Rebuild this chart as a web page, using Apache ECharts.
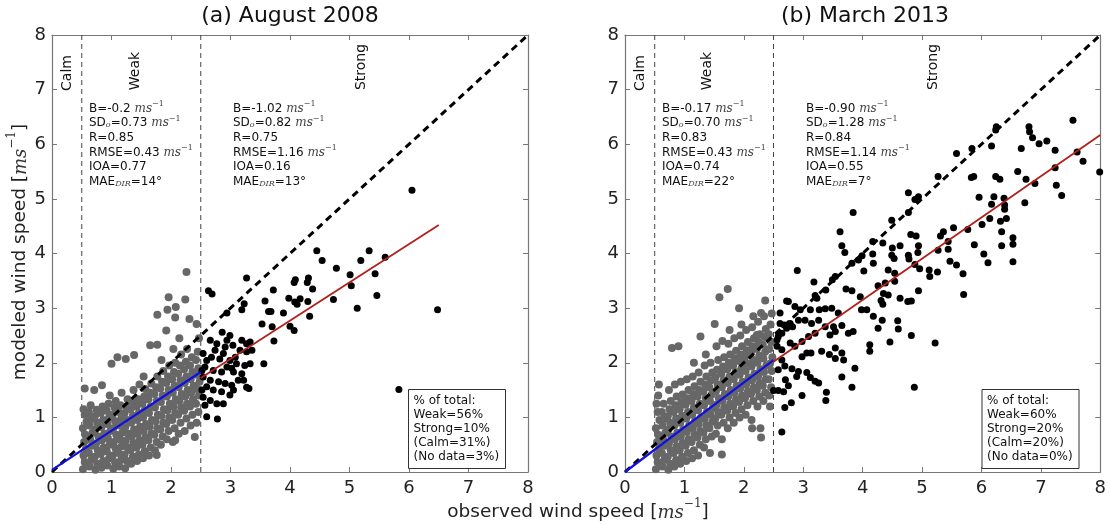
<!DOCTYPE html>
<html>
<head>
<meta charset="utf-8">
<script src="https://cdn.jsdelivr.net/npm/echarts@6/dist/echarts.min.js"></script>
<style>
  html, body { margin: 0; padding: 0; background: #fff; }
  #chart-container { width: 1109px; height: 525px; }
</style>
</head>
<body>
<div id="chart-container"></div>
<script>
// ---- data ----
var titles = ["(a) August 2008", "(b) March 2013"];
var bandLimits = [0.5, 2.5];
var oneToOne = [[0, 0], [8, 8]];

var weakFitA = [[0, 0.04], [2.5, 1.83]];
var strongFitA = [[2.5, 1.72], [6.5, 4.52]];
var weakFitB = [[0, 0], [2.5, 2.05]];
var strongFitB = [[2.5, 2.02], [8, 6.17]];

// stats: B, SDo, R, RMSE, IOA, MAE_DIR
var statsWeakA = ["-0.2", "0.73", "0.85", "0.43", "0.77", "14"];
var statsStrongA = ["-1.02", "0.82", "0.75", "1.16", "0.16", "13"];
var statsWeakB = ["-0.17", "0.70", "0.83", "0.43", "0.74", "22"];
var statsStrongB = ["-0.90", "1.28", "0.84", "1.14", "0.55", "7"];

var shareA = ["% of total:", "Weak=56%", "Strong=10%", "(Calm=31%)", "(No data=3%)"];
var shareB = ["% of total:", "Weak=60%", "Strong=20%", "(Calm=20%)", "(No data=0%)"];

var grayA = [
[0.52,0.05],[0.55,0.18],[0.53,0.30],[0.57,0.42],[0.54,0.55],[0.56,0.68],[0.52,0.80],[0.58,0.92],[0.55,1.05],[0.53,1.15],[0.55,1.53],
[0.63,0.10],[0.66,0.22],[0.62,0.35],[0.67,0.48],[0.64,0.60],[0.68,0.72],[0.63,0.85],[0.66,0.97],[0.62,1.10],[0.65,1.22],
[0.73,0.04],[0.76,0.15],[0.72,0.28],[0.77,0.40],[0.74,0.52],[0.78,0.65],[0.73,0.78],[0.76,0.90],[0.72,1.02],[0.75,1.14],[0.71,1.50],
[0.83,0.08],[0.86,0.20],[0.82,0.33],[0.87,0.45],[0.84,0.58],[0.88,0.70],[0.83,0.82],[0.86,0.95],[0.82,1.08],[0.85,1.20],[0.84,1.59],
[0.93,0.12],[0.96,0.25],[0.92,0.38],[0.97,0.50],[0.94,0.62],[0.98,0.75],[0.93,0.88],[0.96,1.00],[0.92,1.12],[0.95,1.25],[0.97,1.40],
[1.03,0.06],[1.06,0.18],[1.02,0.30],[1.07,0.43],[1.04,0.55],[1.08,0.68],[1.03,0.80],[1.06,0.93],[1.02,1.05],[1.05,1.18],[1.07,1.30],[1.00,1.98],
[1.13,0.10],[1.16,0.22],[1.12,0.35],[1.17,0.47],[1.14,0.60],[1.18,0.72],[1.13,0.85],[1.16,0.97],[1.12,1.10],[1.15,1.22],[1.17,1.45],[1.10,2.10],
[1.23,0.07],[1.26,0.20],[1.22,0.32],[1.27,0.45],[1.24,0.57],[1.28,0.70],[1.23,0.82],[1.26,0.95],[1.22,1.08],[1.25,1.20],[1.27,1.33],[1.24,2.07],
[1.33,0.15],[1.36,0.28],[1.32,0.40],[1.37,0.53],[1.34,0.65],[1.38,0.78],[1.33,0.90],[1.36,1.03],[1.32,1.15],[1.35,1.28],[1.37,1.50],[1.38,2.14],
[1.43,0.20],[1.46,0.32],[1.42,0.45],[1.47,0.58],[1.44,0.70],[1.48,0.83],[1.43,0.95],[1.46,1.08],[1.42,1.20],[1.45,1.33],[1.47,1.60],
[1.53,0.25],[1.56,0.38],[1.52,0.50],[1.57,0.63],[1.54,0.75],[1.58,0.88],[1.53,1.00],[1.56,1.13],[1.52,1.25],[1.55,1.38],[1.57,1.52],[1.54,1.75],
[1.63,0.30],[1.66,0.45],[1.62,0.58],[1.67,0.70],[1.64,0.83],[1.68,0.95],[1.63,1.08],[1.66,1.20],[1.62,1.33],[1.65,1.45],[1.67,1.62],[1.65,2.32],
[1.73,0.40],[1.76,0.55],[1.72,0.68],[1.77,0.80],[1.74,0.93],[1.78,1.05],[1.73,1.18],[1.76,1.30],[1.72,1.43],[1.75,1.55],[1.77,1.75],[1.77,2.33],[1.77,2.88],[1.76,0.31],
[1.83,0.50],[1.86,0.65],[1.82,0.78],[1.87,0.90],[1.84,1.03],[1.88,1.15],[1.83,1.28],[1.86,1.40],[1.82,1.53],[1.85,1.65],[1.87,1.85],[1.84,2.05],
[1.93,0.60],[1.96,0.75],[1.92,0.88],[1.97,1.00],[1.94,1.13],[1.98,1.25],[1.93,1.38],[1.96,1.50],[1.92,1.63],[1.95,1.75],[1.97,1.95],[1.92,2.59],[1.96,3.20],[1.94,2.97],
[2.03,0.55],[2.06,0.80],[2.02,0.95],[2.07,1.08],[2.04,1.20],[2.08,1.33],[2.03,1.45],[2.06,1.58],[2.02,1.70],[2.05,1.83],[2.07,2.00],[2.04,2.25],[2.07,2.83],[2.08,3.02],[2.07,0.58],
[2.13,0.70],[2.16,0.90],[2.12,1.05],[2.17,1.18],[2.14,1.30],[2.18,1.43],[2.13,1.55],[2.16,1.68],[2.12,1.80],[2.15,1.95],[2.17,2.15],[2.14,2.45],
[2.23,0.75],[2.26,0.98],[2.22,1.12],[2.27,1.25],[2.24,1.38],[2.28,1.50],[2.23,1.63],[2.26,1.75],[2.22,1.88],[2.25,2.02],[2.27,2.25],[2.24,3.16],[2.26,3.66],
[2.33,0.85],[2.36,1.05],[2.32,1.20],[2.37,1.33],[2.34,1.45],[2.38,1.58],[2.33,1.70],[2.36,1.83],[2.32,1.95],[2.35,2.10],[2.31,2.80],[2.40,0.64],
[2.43,0.90],[2.46,1.10],[2.42,1.25],[2.47,1.40],[2.44,1.52],[2.48,1.65],[2.43,1.78],[2.46,1.90],[2.42,2.05],[2.45,2.20],[2.43,2.71],[2.47,2.45]
];

var blackA = [
[6.05,5.16],[6.48,2.97],[5.83,1.51],[4.45,4.05],[4.54,3.87],[4.78,3.73],[5.01,3.61],[5.19,3.87],[5.33,4.05],[5.60,3.93],
[5.43,3.63],[5.46,3.23],[5.13,3.00],[5.03,3.41],[4.73,3.16],[3.27,3.55],[2.63,3.32],[2.69,3.26],[3.72,3.33],[4.09,3.52],
[4.07,3.47],[4.31,3.55],[4.29,3.47],[4.38,3.35],[3.98,3.18],[4.08,3.11],[4.17,3.17],[4.12,3.07],[4.30,3.12],[3.58,3.13],
[3.23,3.08],[3.19,2.97],[3.64,2.94],[3.68,2.94],[3.89,2.91],[4.33,2.85],[2.94,2.91],[3.53,2.71],[3.70,2.66],[4.00,2.67],
[4.07,2.59],[3.73,2.40],[3.56,1.98],[3.33,2.38],[3.31,1.53],
[2.86,2.56],[2.99,2.50],[2.66,2.41],[2.77,2.35],[2.91,2.29],[3.04,2.32],[3.16,2.23],[3.27,2.20],[3.36,2.23],[2.54,2.17],
[2.68,2.10],[2.82,2.07],[2.99,2.04],[3.10,1.98],[3.24,1.95],[3.33,1.98],[2.57,1.92],[2.71,1.86],[2.85,1.83],[2.94,1.92],
[3.05,1.83],[3.19,1.80],[2.54,1.74],[2.66,1.68],[2.80,1.65],[2.91,1.62],[3.02,1.59],[3.13,1.68],[2.60,1.56],[2.71,1.50],
[2.85,1.47],[2.99,1.41],[2.54,1.37],[2.66,1.31],[2.77,1.25],[2.88,1.25],[2.57,1.22],[2.60,1.01],[2.78,0.97],[3.05,1.50],
[3.27,1.55],[3.22,1.68],[2.52,1.50],[2.52,1.86],[2.60,2.04],[2.74,2.23],[2.88,2.17],[3.08,2.10],[3.19,2.41],[3.27,2.35],
[2.94,2.41],[3.02,1.90]
];

var grayB = [
[0.52,0.05],[0.55,0.18],[0.53,0.30],[0.57,0.42],[0.54,0.55],[0.56,0.68],[0.52,0.80],[0.58,0.95],[0.55,1.10],[0.53,1.25],[0.56,1.40],[0.57,1.60],
[0.63,0.10],[0.66,0.22],[0.62,0.35],[0.67,0.48],[0.64,0.60],[0.68,0.72],[0.63,0.85],[0.66,0.97],[0.62,1.10],[0.65,1.25],
[0.73,0.04],[0.76,0.15],[0.72,0.28],[0.77,0.40],[0.74,0.52],[0.78,0.65],[0.73,0.78],[0.76,0.90],[0.72,1.02],[0.75,1.15],[0.77,1.30],[0.74,1.50],
[0.83,0.10],[0.86,0.22],[0.82,0.35],[0.87,0.47],[0.84,0.60],[0.88,0.72],[0.83,0.85],[0.86,0.98],[0.82,1.10],[0.85,1.22],[0.87,1.38],[0.84,1.60],[0.79,2.27],[0.90,2.30],
[0.93,0.15],[0.96,0.28],[0.92,0.40],[0.97,0.53],[0.94,0.65],[0.98,0.78],[0.93,0.90],[0.96,1.03],[0.92,1.15],[0.95,1.28],[0.97,1.42],[0.94,1.65],
[1.03,0.20],[1.06,0.35],[1.02,0.48],[1.07,0.60],[1.04,0.73],[1.08,0.85],[1.03,0.98],[1.06,1.10],[1.02,1.23],[1.05,1.35],[1.07,1.50],[1.04,1.70],
[1.13,0.25],[1.16,0.40],[1.12,0.55],[1.17,0.68],[1.14,0.80],[1.18,0.93],[1.13,1.05],[1.16,1.18],[1.12,1.30],[1.15,1.43],[1.17,1.57],[1.14,1.75],[1.16,2.00],
[1.23,0.30],[1.26,0.50],[1.22,0.63],[1.27,0.75],[1.24,0.88],[1.28,1.00],[1.23,1.13],[1.26,1.25],[1.22,1.38],[1.25,1.50],[1.27,1.65],[1.24,1.82],[1.27,2.48],
[1.33,0.45],[1.36,0.60],[1.32,0.72],[1.37,0.85],[1.34,0.97],[1.38,1.10],[1.33,1.22],[1.36,1.35],[1.32,1.47],[1.35,1.60],[1.37,1.75],[1.34,1.95],[1.36,2.15],
[1.43,0.35],[1.46,0.65],[1.42,0.80],[1.47,0.92],[1.44,1.05],[1.48,1.17],[1.43,1.30],[1.46,1.42],[1.42,1.55],[1.45,1.68],[1.47,1.82],[1.44,2.00],[1.51,2.71],
[1.53,0.70],[1.56,0.85],[1.52,0.98],[1.57,1.10],[1.54,1.23],[1.58,1.35],[1.53,1.48],[1.56,1.60],[1.52,1.73],[1.55,1.87],[1.57,2.05],[1.54,2.30],
[1.63,0.60],[1.66,0.90],[1.62,1.05],[1.67,1.18],[1.64,1.30],[1.68,1.43],[1.63,1.55],[1.66,1.68],[1.62,1.80],[1.65,1.93],[1.67,2.10],[1.64,2.40],[1.63,0.32],[1.59,3.20],
[1.73,0.80],[1.76,1.00],[1.72,1.12],[1.77,1.25],[1.74,1.38],[1.78,1.50],[1.73,1.63],[1.76,1.75],[1.72,1.88],[1.75,2.00],[1.77,2.15],[1.74,2.35],[1.76,2.60],[1.73,3.35],
[1.83,0.90],[1.86,1.08],[1.82,1.20],[1.87,1.33],[1.84,1.45],[1.88,1.58],[1.83,1.70],[1.86,1.83],[1.82,1.95],[1.85,2.08],[1.87,2.22],[1.84,2.45],
[1.93,1.00],[1.96,1.15],[1.92,1.28],[1.97,1.40],[1.94,1.53],[1.98,1.65],[1.93,1.78],[1.96,1.90],[1.92,2.03],[1.95,2.15],[1.97,2.30],[1.94,2.50],[1.96,2.70],[1.92,3.00],
[2.03,1.05],[2.06,1.22],[2.02,1.35],[2.07,1.48],[2.04,1.60],[2.08,1.73],[2.03,1.85],[2.06,1.98],[2.02,2.10],[2.05,2.23],[2.07,2.38],[2.04,2.60],
[2.13,0.95],[2.16,1.30],[2.12,1.43],[2.17,1.55],[2.14,1.68],[2.18,1.80],[2.13,1.93],[2.16,2.05],[2.12,2.18],[2.15,2.30],[2.17,2.45],[2.14,2.65],[2.16,2.85],[2.14,0.80],
[2.23,1.20],[2.26,1.38],[2.22,1.50],[2.27,1.63],[2.24,1.75],[2.28,1.88],[2.23,2.00],[2.26,2.13],[2.22,2.25],[2.25,2.38],[2.27,2.52],[2.24,2.75],[2.22,2.51],[2.29,2.91],[2.28,0.80],[2.29,0.63],
[2.33,1.30],[2.36,1.45],[2.32,1.58],[2.37,1.70],[2.34,1.83],[2.38,1.95],[2.33,2.08],[2.36,2.20],[2.32,2.33],[2.35,2.47],[2.37,2.62],[2.34,2.85],[2.36,3.14],
[2.43,1.40],[2.46,1.55],[2.42,1.70],[2.47,1.85],[2.44,1.98],[2.48,2.10],[2.43,2.25],[2.46,2.38],[2.42,2.52],[2.45,2.70],[2.47,2.90],[2.44,1.20]
];

var blackB = [
[7.54,6.44],[6.80,6.32],[6.81,6.23],[6.86,6.12],[6.97,6.01],[7.10,6.06],[6.67,5.92],[7.24,5.89],[7.61,5.86],[7.71,5.69],
[7.99,5.49],[6.25,6.32],[6.24,6.26],[6.17,5.97],[5.84,5.92],[5.58,5.83],[5.87,5.41],[5.83,5.39],[6.24,5.41],[6.31,5.36],
[6.61,5.50],[6.75,5.36],[6.90,5.28],[7.24,5.57],[7.26,5.25],[7.35,5.06],[6.73,4.93],[6.38,5.01],[6.21,5.04],[5.96,5.03],
[6.17,4.90],[6.39,4.89],[6.39,4.81],[6.42,4.64],[6.32,4.59],[6.14,4.64],[6.01,4.53],[6.34,4.40],[6.53,4.29],[6.53,4.17],
[6.34,4.14],[6.53,3.85],[6.11,3.83],[6.04,3.99],[5.88,4.16],[5.77,4.44],[5.53,4.47],[5.36,4.40],[5.31,4.32],[5.44,4.22],
[5.27,4.06],[5.44,4.08],[5.47,3.86],[5.58,3.79],[5.69,3.63],[5.70,3.25],[5.27,5.41],[4.94,5.04],[4.88,4.99],[4.77,5.11],
[4.77,4.75],[4.49,4.61],[3.84,4.75],[3.62,4.40],[3.65,4.14],[3.70,4.02],[4.17,4.22],[4.34,4.19],[4.50,4.10],[4.63,4.14],
[4.49,3.97],[4.53,3.91],[4.81,4.35],[4.90,4.32],[4.94,4.14],[4.77,3.97],[4.78,3.90],[4.93,4.02],[4.88,3.80],[4.96,3.72],
[5.12,3.70],[5.13,3.58],[5.26,3.66],[4.94,3.32],[4.82,3.13],[4.76,3.12],[4.54,3.64],[4.54,3.49],[4.43,3.70],[4.38,3.46],
[4.26,3.41],[4.35,3.27],[4.43,3.24],[4.31,3.14],[4.34,3.07],[4.63,3.18],[4.17,3.99],[4.18,3.82],[4.02,3.68],[3.99,3.96],
[3.93,3.88],[3.82,3.82],[3.54,3.58],[3.49,3.52],[3.72,3.35],[3.82,3.32],[3.96,3.21],[3.98,2.97],[4.18,2.85],[4.33,2.78],
[4.59,2.77],[4.60,2.62],[4.46,2.38],[4.26,2.63],[4.12,2.33],[4.12,2.21],[4.82,2.50],[5.22,2.36],[4.87,1.55],[3.87,1.90],
[3.65,1.74],[3.82,1.55],[3.39,1.46],[3.38,1.31],[2.98,1.40],[2.80,1.27],[2.69,1.18],[2.64,0.73],[2.67,1.47],[2.50,1.49],
[2.58,1.49],[2.90,3.69],[3.18,3.48],[3.38,3.33],[3.20,3.23],[3.23,3.18],[2.72,3.13],[2.75,3.12],[2.86,3.03],[2.95,2.97],
[3.12,2.97],[3.27,2.97],[3.37,2.99],[3.48,3.00],[3.59,2.91],[2.61,2.72],[2.68,2.69],[2.78,2.72],[2.82,2.66],[2.72,2.63],
[2.64,2.54],[2.58,2.48],[2.92,2.78],[3.03,2.78],[3.14,2.72],[3.26,2.78],[3.37,2.66],[3.51,2.66],[3.54,2.57],[3.45,2.51],
[3.65,2.68],[3.76,2.54],[3.84,2.57],[3.20,2.54],[3.09,2.48],[2.98,2.39],[2.86,2.30],[2.78,2.36],[2.64,2.24],[3.06,2.18],
[2.98,2.11],[3.13,2.18],[3.31,2.21],[3.54,2.27],[3.44,2.15],[3.54,2.08],[3.65,2.18],[3.68,2.05],[2.64,2.05],[2.69,1.94],
[2.81,1.89],[2.92,1.84],[2.89,1.75],[3.06,1.82],[3.12,1.73],[3.20,1.66],[3.26,1.63],[2.75,1.58],[2.70,1.69],[2.58,1.87],
[2.56,2.42],[2.56,2.30],[2.61,2.91],[4.07,2.97]
];

// ---- chart ----
var dom = document.getElementById("chart-container");
var myChart = echarts.init(dom, null, { renderer: "canvas" });

var frame = "#777";
var sans = "DejaVu Sans";
var serif = "DejaVu Serif";

function bottomAxis(grid) {
  return {
    type: "value", gridIndex: grid, min: 0, max: 8, interval: 1,
    axisLine: { show: true, onZero: false, lineStyle: { color: frame, width: 1.2 } },
    axisTick: { inside: true, length: 5, lineStyle: { color: frame } },
    axisLabel: { color: "#222", fontSize: 18, fontFamily: sans, margin: 7 },
    splitLine: { show: false },
  };
}
function topAxis(grid) {
  return {
    type: "value", gridIndex: grid, position: "top", min: 0, max: 8, interval: 1,
    axisLine: { show: true, onZero: false, lineStyle: { color: frame, width: 1.2 } },
    axisTick: { inside: true, length: 5, lineStyle: { color: frame } },
    axisLabel: { show: false },
    splitLine: { show: false },
  };
}
function leftAxis(grid) {
  return {
    type: "value", gridIndex: grid, min: 0, max: 8, interval: 1,
    axisLine: { show: true, onZero: false, lineStyle: { color: frame, width: 1.2 } },
    axisTick: { inside: true, length: 5, lineStyle: { color: frame } },
    axisLabel: { color: "#222", fontSize: 18, fontFamily: sans, margin: 6 },
    splitLine: { show: false },
  };
}
function rightAxis(grid) {
  return {
    type: "value", gridIndex: grid, position: "right", min: 0, max: 8, interval: 1,
    axisLine: { show: true, onZero: false, lineStyle: { color: frame, width: 1.2 } },
    axisTick: { inside: true, length: 5, lineStyle: { color: frame } },
    axisLabel: { show: false },
    splitLine: { show: false },
  };
}

function lineSeries(idx, data, color, width, dash, z) {
  return {
    type: "line", xAxisIndex: idx, yAxisIndex: idx, data: data,
    symbol: "none", silent: true, z: z,
    lineStyle: { color: color, width: width, type: dash || "solid" },
  };
}
function dotSeries(idx, data, color, size, z) {
  return {
    type: "scatter", xAxisIndex: idx, yAxisIndex: idx, data: data,
    symbolSize: size, silent: true, z: z,
    itemStyle: { color: color, opacity: 1 },
  };
}

function panelSeries(idx, gray, black, weakFit, strongFit) {
  var s = [];
  bandLimits.forEach(function (b) {
    s.push(lineSeries(idx, [[b, 0], [b, 8]], "#444", 1, [5, 4], 1));
  });
  s.push(dotSeries(idx, gray, "#676767", 8, 2));
  s.push(dotSeries(idx, black, "#000", 7, 3));
  s.push(lineSeries(idx, oneToOne, "#000", 3, [7, 5], 4));
  s.push(lineSeries(idx, weakFit, "#1010e0", 2.2, null, 5));
  s.push(lineSeries(idx, strongFit, "#b0201c", 1.8, null, 5));
  return s;
}

var rich = {
  t: { fontFamily: sans, fontSize: 12, lineHeight: 14.6, verticalAlign: "bottom", fill: "#111" },
  m: { fontFamily: serif, fontStyle: "italic", fontSize: 12, lineHeight: 14.6, verticalAlign: "bottom", fill: "#444" },
  sup: { fontFamily: serif, fontSize: 8, lineHeight: 8, verticalAlign: "top", fill: "#444" },
  sub: { fontFamily: serif, fontStyle: "italic", fontSize: 8, lineHeight: 5, verticalAlign: "bottom", fill: "#444" },
};

function statsText(v) {
  return [
    "{t|B=" + v[0] + " }{m|ms}{sup|−1}",
    "{t|SD}{sub|o}{t|=" + v[1] + " }{m|ms}{sup|−1}",
    "{t|R=" + v[2] + "}",
    "{t|RMSE=" + v[3] + " }{m|ms}{sup|−1}",
    "{t|IOA=" + v[4] + "}",
    "{t|MAE}{sub|DIR}{t|=" + v[5] + "°}",
  ].join("\n");
}

function statsBlock(x, v) {
  return {
    type: "text", x: x, y: 100, z: 10,
    style: { text: statsText(v), rich: rich, align: "left", verticalAlign: "top" },
  };
}

function shareBox(x, lines) {
  return [
    { type: "rect", shape: { x: x, y: 389.5, width: 97, height: 79 }, z: 10,
      style: { fill: "#fff", stroke: "#333", lineWidth: 1 } },
    { type: "text", x: x + 5, y: 394, z: 11,
      style: { text: lines.join("\n"), font: "12px " + sans, lineHeight: 14, fill: "#111", align: "left", verticalAlign: "top" } },
  ];
}

function bandLabel(x, y, txt) {
  return {
    type: "text", x: x, y: y, rotation: Math.PI / 2, z: 10,
    style: { text: txt, font: "14px " + sans, fill: "#111", align: "center", verticalAlign: "middle" },
  };
}

var unitRich = {
  a: { fontFamily: sans, fontSize: 18.5, lineHeight: 24, verticalAlign: "bottom", fill: "#222" },
  m: { fontFamily: serif, fontStyle: "italic", fontSize: 18, lineHeight: 24, verticalAlign: "bottom", fill: "#333" },
  s: { fontFamily: serif, fontSize: 12, lineHeight: 12, verticalAlign: "top", fill: "#333" },
};

var graphics = [
  { type: "text", x: 290, y: 16, style: { text: titles[0], font: "22px " + sans, fill: "#111", align: "center", verticalAlign: "middle" } },
  { type: "text", x: 865, y: 16, style: { text: titles[1], font: "22px " + sans, fill: "#111", align: "center", verticalAlign: "middle" } },
  { type: "text", x: 578, y: 510, style: { text: "{a|observed wind speed [}{m|ms}{s|−1}{a|]}", rich: unitRich, align: "center", verticalAlign: "middle" } },
  { type: "text", x: 18, y: 252, rotation: Math.PI / 2, style: { text: "{a|modeled wind speed [}{m|ms}{s|−1}{a|]}", rich: unitRich, align: "center", verticalAlign: "middle" } },
  bandLabel(67, 73, "Calm"), bandLabel(135, 71, "Weak"), bandLabel(361, 67, "Strong"),
  bandLabel(640, 73, "Calm"), bandLabel(707, 71, "Weak"), bandLabel(933, 67, "Strong"),
  statsBlock(89, statsWeakA), statsBlock(233, statsStrongA),
  statsBlock(662, statsWeakB), statsBlock(806, statsStrongB),
].concat(shareBox(408.5, shareA), shareBox(982, shareB));

var option = {
  animation: false,
  backgroundColor: "#fff",
  grid: [
    { left: 52, top: 35, width: 476, height: 437 },
    { left: 625, top: 35, width: 476, height: 437 },
  ],
  xAxis: [bottomAxis(0), bottomAxis(1), topAxis(0), topAxis(1)],
  yAxis: [leftAxis(0), leftAxis(1), rightAxis(0), rightAxis(1)],
  series: panelSeries(0, grayA, blackA, weakFitA, strongFitA)
    .concat(panelSeries(1, grayB, blackB, weakFitB, strongFitB)),
  graphic: graphics,
};

if (option && typeof option === "object") {
  myChart.setOption(option);
}
window.addEventListener("resize", myChart.resize);
</script>
</body>
</html>
